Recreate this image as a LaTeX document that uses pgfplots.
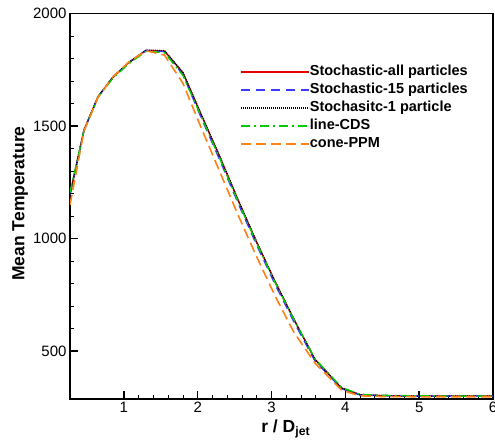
\documentclass[border=0pt]{standalone}
\usepackage{fontspec}
\setmainfont{Liberation Sans}
\usepackage{pgfplots}
\pgfplotsset{compat=1.18}
\usepackage{pgfplotstable}

\definecolor{cred}{RGB}{230,0,0}
\definecolor{cblue}{RGB}{60,60,255}
\definecolor{cgreen}{RGB}{0,205,0}
\definecolor{corange}{RGB}{255,128,20}

\pgfplotstableread{
r    red  blue black green orange
0.27 1195 1195 1197 1205 1150
0.46 1482 1482 1483 1480 1478
0.65 1630 1630 1631 1628 1628
0.85 1716 1716 1717 1712 1718
1.06 1780 1780 1781 1775 1782
1.30 1836 1836 1837 1832 1835
1.55 1833 1831 1835 1826 1815
1.80 1736 1728 1738 1725 1690
2.05 1548 1535 1550 1540 1490
2.30 1362 1348 1364 1355 1296
2.55 1168 1155 1170 1162 1102
2.80 982  970  984  978  918
3.05 806  795  808  803  744
3.30 642  632  644  642  585
3.59 462  455  463  465  446
3.95 335  333  336  338  326
4.20 306  305  306  308  301
4.50 302  302  302  303  298
5.00 300  300  300  301  297
5.50 300  300  300  300  297
6.00 300  300  300  300  297
}\data

\begin{document}
\begin{tikzpicture}
\begin{axis}[name=ax, scale only axis, width=423bp, height=385.5bp,
  xmin=0.27, xmax=6, ymin=287, ymax=2000,
  xtick={1,2,3,4,5,6}, ytick={500,1000,1500,2000},
  minor x tick num=4, minor y tick num=4,
  tick align=inside, xtick pos=left, ytick pos=left,
  major tick length=8bp, minor tick length=4.5bp,
  every major tick/.style={black, line width=1.4pt},
  every minor tick/.style={black, line width=0.8pt},
  axis line style={line width=1.6pt},
  tick label style={font=\fontsize{15bp}{18bp}\selectfont},
  /pgf/number format/assume math mode=true,
  /pgf/number format/1000 sep={},
  xlabel={r / D\textsubscript{jet}},
  ylabel={Mean Temperature},
  xlabel style={font=\fontsize{17.5bp}{20bp}\selectfont\bfseries, at={(axis description cs:0.444,-0.088)}, anchor=base west},
  ylabel style={font=\fontsize{17.5bp}{20bp}\selectfont\bfseries, at={(axis description cs:-0.118,0.507)}, anchor=center, rotate=0},
  legend style={draw=none, fill=none, inner sep=0pt, at={(axis description cs:0.402,0.866)}, anchor=north west,
    font=\fontsize{14.5bp}{17bp}\selectfont\bfseries, row sep=4.5bp,
    nodes={inner sep=0pt, text height=10.5bp, text depth=3bp}},
  legend cell align=left,
  legend image code/.code={\draw[#1] (0bp,0bp) -- (68bp,0bp);},
  /tikz/every even column/.append style={column sep=12bp},
]
\addplot[cred, line width=1.4bp] table[x=r, y=red] {\data};
\addlegendentry{Stochastic-all particles}
\addplot[cblue, line width=1.4bp, dash pattern=on 9bp off 6bp] table[x=r, y=blue] {\data};
\addlegendentry{Stochastic-15 particles}
\addplot[black, line width=1.4bp, dash pattern=on 1bp off 1bp] table[x=r, y=black] {\data};
\addlegendentry{Stochasitc-1 particle}
\addplot[cgreen, line width=1.4bp, dash pattern=on 9bp off 4bp on 2bp off 4bp] table[x=r, y=green] {\data};
\addlegendentry{line-CDS}
\addplot[corange, line width=1.6bp, dash pattern=on 10bp off 5bp] table[x=r, y=orange] {\data};
\addlegendentry{cone-PPM}
\end{axis}
\pgfresetboundingbox
\path[use as bounding box] ([shift={(-70bp,-43bp)}]ax.south west) rectangle ([shift={(2bp,13.5bp)}]ax.north east);
\end{tikzpicture}
\end{document}
